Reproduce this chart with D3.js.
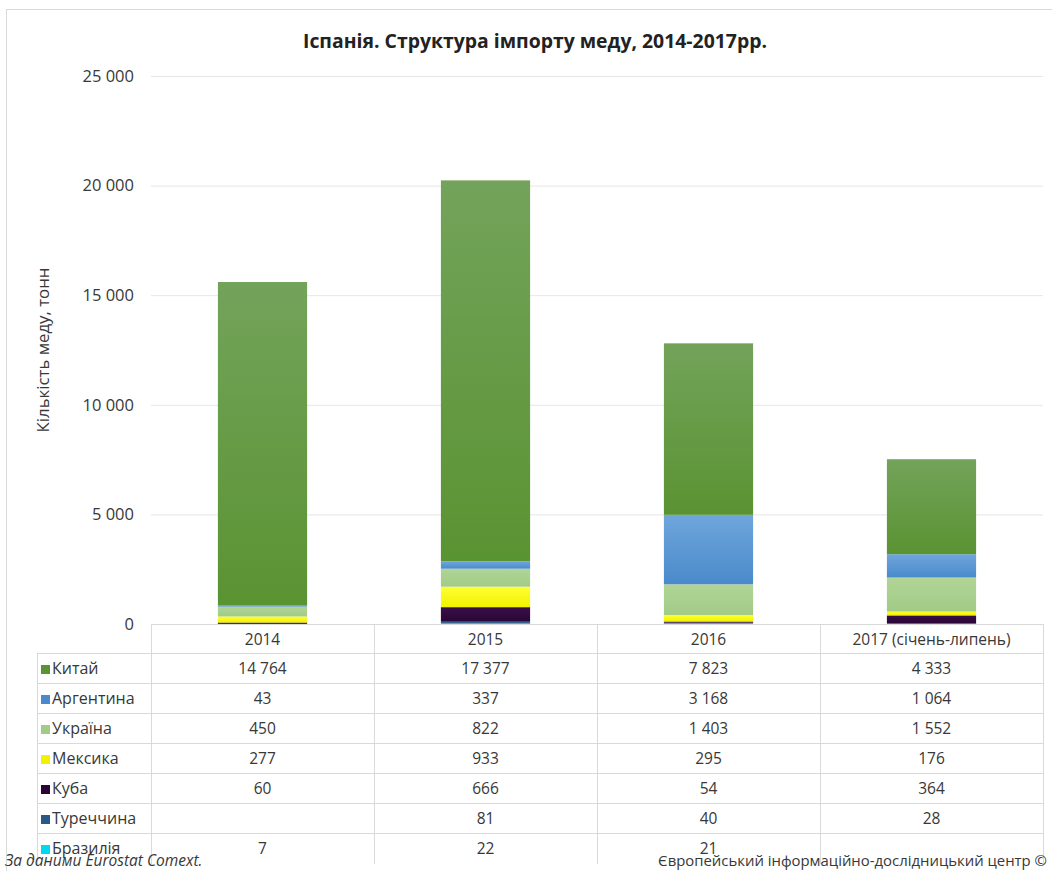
<!DOCTYPE html>
<html><head><meta charset="utf-8">
<script src="https://cdn.jsdelivr.net/npm/d3@7"></script>
<style>
body{margin:0;background:#fff;}
svg text{font-family:"Open Sans",Lato,sans-serif;}
</style></head>
<body><svg id="c" width="1052" height="871"></svg>
<script>
const categories = ["2014","2015","2016","2017 (січень-липень)"];
const seriesNames = ["Китай","Аргентина","Україна","Мексика","Куба","Туреччина","Бразилія"];
const china     = [14764, 17377, 7823, 4333];
const argentina = [43, 337, 3168, 1064];
const ukraine   = [450, 822, 1403, 1552];
const mexico    = [277, 933, 295, 176];
const cuba      = [60, 666, 54, 364];
const turkey    = [null, 81, 40, 28];
const brazil    = [7, 22, 21, null];
const yTicks = [0, 5000, 10000, 15000, 20000, 25000];

const seriesValues = [china, argentina, ukraine, mexico, cuba, turkey, brazil];
const colors = [
  ["#73a35a","#5a9332"],
  ["#6fa6dc","#4a8acb"],
  ["#b0d597","#a2cb86"],
  ["#ffff33","#f2f200"],
  ["#3a1048","#2a0535"],
  ["#356a94","#285a84"],
  ["#22e8ff","#00d8f0"]
];

(function(){
const svg = d3.select("#c");
const fmt = d3.formatLocale({decimal:",",thousands:" ",grouping:[3],currency:["",""]}).format(",d");
const txt = "#383838";

svg.append("line").attr("x1",6.5).attr("x2",6.5).attr("y1",9).attr("y2",871).attr("stroke","#d9d9d9");
svg.append("line").attr("x1",6).attr("x2",1052).attr("y1",9.5).attr("y2",9.5).attr("stroke","#d9d9d9");

const pLeft=151, pRight=1043, pTop=76, pBottom=624;
const x = d3.scaleBand().domain(categories).range([pLeft,pRight]).paddingInner(0.6).paddingOuter(0.3);
const xCell = d3.scaleBand().domain(categories).range([pLeft,pRight]);
const y = d3.scaleLinear().domain([0,25000]).range([pBottom,pTop]);

const defs = svg.append("defs");
colors.forEach((c,i)=>{
  const g = defs.append("linearGradient").attr("id","g"+i).attr("x1",0).attr("x2",0).attr("y1",0).attr("y2",1);
  g.append("stop").attr("offset","0%").attr("stop-color",c[0]);
  g.append("stop").attr("offset","100%").attr("stop-color",c[1]);
});

const yAxis = d3.axisLeft(y).tickValues(yTicks).tickSize(-(pRight-pLeft)).tickFormat(d=>fmt(d)).tickPadding(17);
const ga = svg.append("g").attr("transform",`translate(${pLeft},0)`).call(yAxis);
ga.select(".domain").remove();
ga.selectAll(".tick line").attr("stroke","#e6e6e6");
ga.selectAll(".tick text").attr("fill",txt).attr("font-size","16.5px");

const stackOrder = [6,5,4,3,2,1,0];
const rows = categories.map((c,j)=>{
  const o={cat:c};
  seriesNames.forEach((s,i)=>o[s]=seriesValues[i][j]||0);
  return o;
});
const stack = d3.stack().keys(stackOrder.map(i=>seriesNames[i]))(rows);
stack.forEach((layer,k)=>{
  const si = stackOrder[k];
  svg.append("g").selectAll("rect").data(layer).join("rect")
    .attr("x",d=>x(d.data.cat))
    .attr("width",x.bandwidth())
    .attr("y",d=>y(d[1]))
    .attr("height",d=>Math.max(0,y(d[0])-y(d[1])))
    .attr("fill",`url(#g${si})`);
});

const rowH = 30, tTop = pBottom, tableLeft = 37;
const gridC = "#d9d9d9";
const tg = svg.append("g");
categories.forEach((c,j)=>{
  tg.append("line").attr("x1",xCell(c)+0.5).attr("x2",xCell(c)+0.5).attr("y1",tTop).attr("y2",tTop+rowH*8).attr("stroke",gridC);
});
tg.append("line").attr("x1",pRight+0.5).attr("x2",pRight+0.5).attr("y1",tTop).attr("y2",tTop+rowH*8).attr("stroke",gridC);
tg.append("line").attr("x1",tableLeft+0.5).attr("x2",tableLeft+0.5).attr("y1",tTop+rowH).attr("y2",tTop+rowH*8).attr("stroke",gridC);
tg.append("line").attr("x1",pLeft).attr("x2",pRight).attr("y1",tTop+0.5).attr("y2",tTop+0.5).attr("stroke",gridC);
for(let r=1;r<=7;r++){
  tg.append("line").attr("x1",tableLeft).attr("x2",pRight).attr("y1",tTop+rowH*r-0.5).attr("y2",tTop+rowH*r-0.5).attr("stroke",gridC);
}
const fs = "15.5px";
tg.selectAll("text.h").data(categories).join("text")
  .attr("x",d=>xCell(d)+xCell.bandwidth()/2).attr("y",tTop+rowH/2+6)
  .attr("text-anchor","middle").attr("font-size",fs).attr("fill",txt).text(d=>d);
seriesNames.forEach((s,i)=>{
  const cy = tTop+rowH*(i+1)+rowH/2;
  tg.append("rect").attr("x",41).attr("y",cy-4).attr("width",9).attr("height",9).attr("fill",colors[i][1]);
  tg.append("text").attr("x",52).attr("y",cy+5).attr("font-size","16px").attr("fill",txt).text(s);
  categories.forEach((c,j)=>{
    const v = seriesValues[i][j];
    if(v==null) return;
    tg.append("text").attr("x",xCell(c)+xCell.bandwidth()/2).attr("y",cy+5)
      .attr("text-anchor","middle").attr("font-size",fs).attr("fill",txt).text(fmt(v));
  });
});

svg.append("text").attr("transform","translate(49,350) rotate(-90)").attr("text-anchor","middle")
  .attr("font-size","16.8px").attr("fill",txt).text("Кількість меду, тонн");

svg.append("text").attr("x",535).attr("y",48).attr("text-anchor","middle").attr("font-size","19.4px")
  .attr("font-weight","bold").attr("fill","#222").text("Іспанія. Структура імпорту меду, 2014-2017рр.");

svg.append("text").attr("x",5).attr("y",866).attr("font-size","15.5px").attr("font-style","italic").attr("fill",txt).text("За даними Eurostat Comext.");
svg.append("text").attr("x",1047).attr("y",866).attr("text-anchor","end").attr("font-size","14.9px").attr("fill",txt).text("Європейський інформаційно-дослідницький центр ©");
})();
</script></body></html>
